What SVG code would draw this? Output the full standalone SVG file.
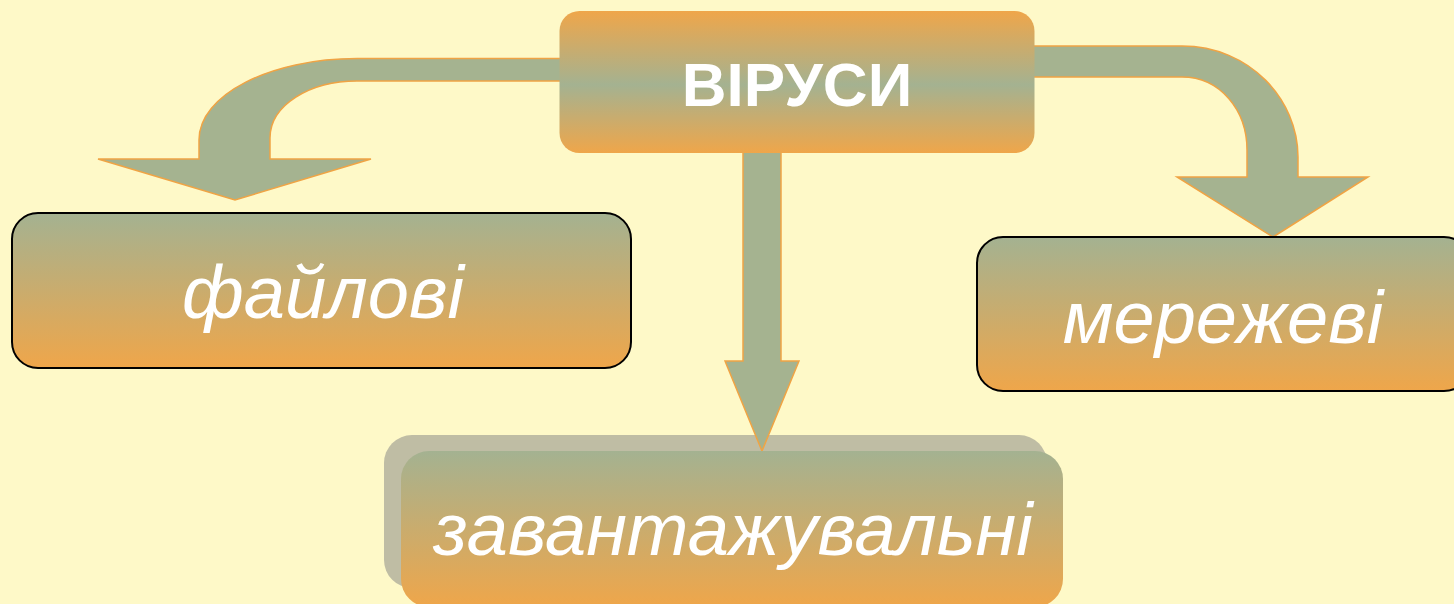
<svg xmlns="http://www.w3.org/2000/svg" width="1454" height="604" viewBox="0 0 1454 604">
  <defs>
    <linearGradient id="gTop" x1="0" y1="0" x2="0" y2="1">
      <stop offset="0" stop-color="#EFA64A"/>
      <stop offset="0.52" stop-color="#A4B291"/>
      <stop offset="1" stop-color="#EFA64A"/>
    </linearGradient>
    <linearGradient id="gBox" x1="0" y1="0" x2="0" y2="1">
      <stop offset="0" stop-color="#A4B291"/>
      <stop offset="1" stop-color="#EFA64A"/>
    </linearGradient>
    <style>
      .arrow { fill: #A5B390; stroke: #F0A444; stroke-width: 1.5; stroke-linejoin: miter; }
      .box { fill: url(#gBox); stroke: #000; stroke-width: 2; }
      .lbl { font-family: "Liberation Sans", Arial, sans-serif; font-style: italic; font-size: 74px; fill: #FFFFFF; text-anchor: middle; }
      .title { font-family: "Liberation Sans", Arial, sans-serif; font-weight: bold; font-size: 62px; fill: #FFFFFF; text-anchor: middle; }
    </style>
  </defs>
  <rect x="0" y="0" width="1454" height="604" fill="#FEF9C8"/>

  <rect id="zavantazhuvalni-shadow" x="384" y="435" width="663" height="153" rx="28" ry="28" fill="#BFBDA4"/>

  <g id="connectors">
    <path class="arrow" d="M 570 58.5 L 357 58.5 C 270 58.5 199 95 199 140 L 199 159 L 98 159 L 235 200 L 371 159 L 270 159 L 270 138 C 270 105 310 81 357 81 L 570 81 Z"/>
    <path class="arrow" d="M 1025 46 L 1182 46 C 1250 46 1298 100 1298 157 L 1298 177 L 1368 177 L 1273 237 L 1177 177 L 1247 177 L 1247 150 C 1247 110 1220 77 1182 77 L 1025 77 Z"/>
    <path class="arrow" d="M 743 140 L 743 361 L 725 361 L 762 451 L 799 361 L 781 361 L 781 140 Z"/>
  </g>

  <g id="node-virusy">
    <rect x="559.5" y="11" width="475" height="142" rx="20" ry="20" fill="url(#gTop)"/>
    <text class="title" x="797" y="106">ВІРУСИ</text>
  </g>

  <g id="node-failovi">
    <rect class="box" x="12" y="213" width="619" height="155" rx="26" ry="26"/>
    <text class="lbl" x="323" y="318">файлові</text>
  </g>

  <g id="node-merezhevi">
    <rect class="box" x="977" y="237" width="493" height="154" rx="26" ry="26"/>
    <text class="lbl" x="1223" y="343">мережеві</text>
  </g>

  <g id="node-zavantazhuvalni">
    <rect x="401" y="451" width="662" height="156" rx="28" ry="28" fill="url(#gBox)"/>
    <text class="lbl" x="733" y="555">завантажувальні</text>
  </g>
</svg>
